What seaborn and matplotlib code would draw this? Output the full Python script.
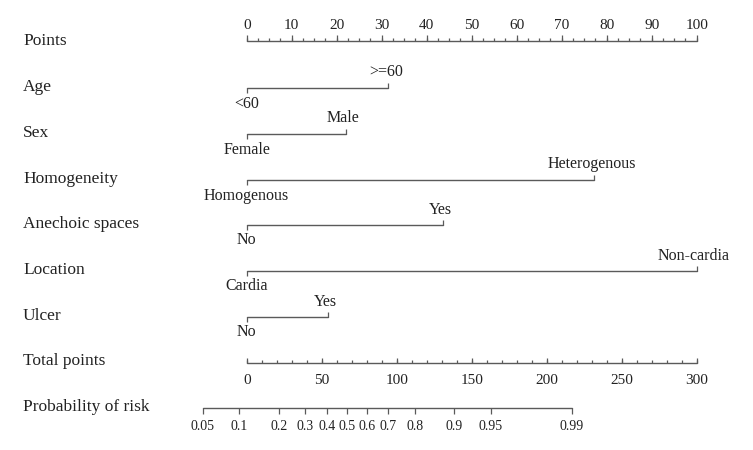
import numpy as np
import pandas as pd
import matplotlib
matplotlib.use("Agg")
import matplotlib.pyplot as plt
import seaborn as sns

sns.set_style("white")
plt.rcParams["font.family"] = ["Liberation Serif", "DejaVu Serif"]

# 예측 변수별 점수 (0 = 기준 범주)
var_names = ["Age", "Sex", "Homogeneity", "Anechoic spaces", "Location", "Ulcer"]
low_levels = ["<60", "Female", "Homogenous", "No", "Cardia", "No"]
high_levels = [">=60", "Male", "Heterogenous", "Yes", "Non-cardia", "Yes"]
high_points = [31.5, 22.1, 77.2, 43.6, 100.0, 18.0]

# 축 눈금
points_labels = [0, 10, 20, 30, 40, 50, 60, 70, 80, 90, 100]
total_labels = [0, 50, 100, 150, 200, 250, 300]
prob_ticks = [0.05, 0.1, 0.2, 0.3, 0.4, 0.5, 0.6, 0.7, 0.8, 0.9, 0.95, 0.99]
prob_text = ["0.05", "0.1", "0.2", "0.3", "0.4", "0.5", "0.6", "0.7", "0.8", "0.9", "0.95", "0.99"]

# 선형 예측식 (total points -> logit)
lp_intercept = -2.043
lp_slope = 0.03063

# 행 위치 (픽셀)
row_y = [41, 87, 133, 179, 224, 270, 316, 361, 407]
line_col = "#5a5a5a"
text_col = "#222222"

fig = plt.figure(figsize=(7.53, 4.5), dpi=100)
ax = fig.add_axes([0, 0, 1, 1])
# x: points 단위, 0 -> 246.7px, 100 -> 696.7px
px0, pxu = 246.7, 4.5
ax.set_xlim(-px0 / pxu, (753 - px0) / pxu)
ax.set_ylim(450, 0)
ax.axis("off")

name_x = (23 - px0) / pxu
names = ["Points"] + var_names + ["Total points", "Probability of risk"]
for nm, y in zip(names, row_y):
    ax.text(name_x, y, nm, fontsize=12.5, color=text_col, ha="left", va="center")

# Points 축
y = row_y[0] - 0.5
ax.plot([0, 100], [y, y], color=line_col, lw=1)
minor = np.arange(0, 100.01, 2.5)
ax.vlines(minor, y - 2.5, y, color=line_col, lw=0.9)
ax.vlines(points_labels, y - 6, y, color=line_col, lw=0.9)
for v in points_labels:
    ax.text(v, y - 15, str(v), fontsize=11, color=text_col, ha="center", va="center")

# 변수별 선분
seg = pd.DataFrame({
    "var": np.repeat(var_names, 2),
    "pts": np.ravel([[0, p] for p in high_points]),
    "y": np.repeat([r + 0.5 for r in row_y[1:7]], 2),
})
sns.lineplot(data=seg, x="pts", y="y", units="var", estimator=None,
             color=line_col, lw=1, ax=ax, legend=False)
for i, (lo, hi, p) in enumerate(zip(low_levels, high_levels, high_points)):
    yl = row_y[i + 1] + 0.5
    ax.vlines(0, yl, yl + 5, color=line_col, lw=0.9)
    ax.vlines(p, yl - 5, yl, color=line_col, lw=0.9)
    ax.text(0, yl + 16, lo, fontsize=11.5, color=text_col, ha="center", va="center")
    ax.text(p - 0.6, yl - 15, hi, fontsize=11.5, color=text_col, ha="center", va="center")

# Total points 축 (300점 = points 100)
y = row_y[7] + 1.5
ax.plot([0, 100], [y, y], color=line_col, lw=1)
ax.vlines(np.arange(0, 301, 10) / 3, y - 3, y, color=line_col, lw=0.9)
ax.vlines(np.array(total_labels) / 3, y - 5, y, color=line_col, lw=0.9)
for v in total_labels:
    ax.text(v / 3, y + 18, str(v), fontsize=11, color=text_col, ha="center", va="center")

# Probability 축
y = row_y[8] + 1
probs = np.array(prob_ticks)
tot = (np.log(probs / (1 - probs)) - lp_intercept) / lp_slope
ax.plot([tot[0] / 3, tot[-1] / 3], [y, y], color=line_col, lw=1)
ax.vlines(tot / 3, y, y + 5.5, color=line_col, lw=0.9)
for t, s in zip(tot, prob_text):
    ax.text(t / 3, y + 18, s, fontsize=10, color=text_col, ha="center", va="center")

fig.savefig("out.png", dpi=100)
